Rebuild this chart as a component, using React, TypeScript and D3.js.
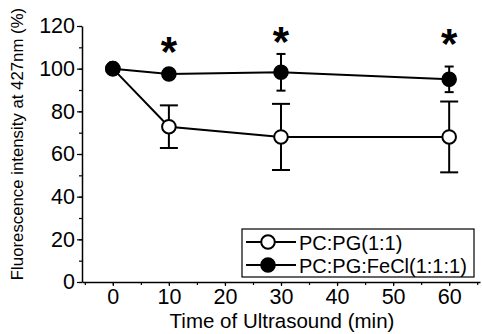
import { useEffect, useMemo, useRef } from 'react';
import * as d3 from 'd3';

const times = [0, 10, 30, 60];
const pcpgMean = [100, 72.8, 68, 68];
const pcpgErr = [0, 10, 15.5, 16.6];
const fecMean = [100, 97.5, 98.3, 95];
const fecErr = [0, 0, 8.6, 6];
const starTimes = [10, 30, 60];
const starLevels = [112.5, 117, 115.8];
const xTicks = [0, 10, 20, 30, 40, 50, 60];
const yTicks = [0, 20, 40, 60, 80, 100, 120];
const seriesNames = ['PC:PG(1:1)', 'PC:PG:FeCl(1:1:1)'];

const W = 482;
const H = 334;
const FONT = '"Liberation Sans", Arial, sans-serif';
const STAR_SIZE = 42;

export default function App() {
    const xAxisEl = useRef<SVGGElement>(null);
    const yAxisEl = useRef<SVGGElement>(null);

    const x = useMemo(() => d3.scaleLinear().domain([-5.5, 65.5]).range([82, 480]), []);
    const y = useMemo(() => d3.scaleLinear().domain([0, 120]).range([282, 26]), []);

    const series = useMemo(
        () => [
            { name: seriesNames[0], mean: pcpgMean, err: pcpgErr, fill: '#fff', cap: 9 },
            { name: seriesNames[1], mean: fecMean, err: fecErr, fill: '#000', cap: 4.5 },
        ],
        []
    );

    useEffect(() => {
        const styleAxis = (g: d3.Selection<SVGGElement, unknown, null, undefined>) => {
            g.selectAll('path').attr('stroke', '#000').attr('stroke-width', 1.5);
            g.selectAll('line').attr('stroke', '#000').attr('stroke-width', 1.2);
            g.selectAll('text').attr('font-family', FONT).attr('font-size', 21.5).attr('fill', '#000');
        };
        if (xAxisEl.current) {
            const g = d3.select(xAxisEl.current);
            g.selectAll('*').remove();
            g.append('g')
                .call(d3.axisBottom(x).tickValues(d3.range(-5, 66, 5)).tickSize(3).tickFormat(() => '').tickSizeOuter(0));
            g.append('g')
                .call(d3.axisBottom(x).tickValues(xTicks).tickSize(4).tickPadding(3).tickSizeOuter(0))
                .call((s) => s.select('path').remove());
            styleAxis(g);
        }
        if (yAxisEl.current) {
            const g = d3.select(yAxisEl.current);
            g.selectAll('*').remove();
            g.append('g')
                .call(d3.axisLeft(y).tickValues(d3.range(0, 121, 10)).tickSize(3).tickFormat(() => '').tickSizeOuter(0));
            g.append('g')
                .call(d3.axisLeft(y).tickValues(yTicks).tickSize(5).tickPadding(2).tickSizeOuter(0))
                .call((s) => s.select('path').remove());
            styleAxis(g);
        }
    }, [x, y]);

    const line = d3
        .line<number>()
        .x((_, i) => x(times[i]))
        .y((d) => y(d));

    return (
        <svg width={W} height={H} style={{ position: 'absolute', left: 0, top: 0, background: '#fff' }}>
            <g ref={xAxisEl} transform={`translate(0, ${y(0)})`} />
            <g ref={yAxisEl} transform={`translate(${x(-5.5)}, 0)`} />
            <text
                transform={`translate(23, ${(y(0) + 4) / 2 + 1}) rotate(-90)`}
                textAnchor="middle"
                fontFamily={FONT}
                fontSize={16.8}
            >
                Fluorescence intensity at 427nm (%)
            </text>
            <text x={282} y={327.5} textAnchor="middle" fontFamily={FONT} fontSize={20.5}>
                Time of Ultrasound (min)
            </text>
            {series.map((s) => (
                <g key={s.name}>
                    {s.mean.map((m, i) =>
                        s.err[i] > 0 ? (
                            <g key={i} stroke="#000" strokeWidth={2}>
                                <line x1={x(times[i])} x2={x(times[i])} y1={y(m - s.err[i])} y2={y(m + s.err[i])} />
                                <line x1={x(times[i]) - s.cap} x2={x(times[i]) + s.cap} y1={y(m + s.err[i])} y2={y(m + s.err[i])} />
                                <line x1={x(times[i]) - s.cap} x2={x(times[i]) + s.cap} y1={y(m - s.err[i])} y2={y(m - s.err[i])} />
                            </g>
                        ) : null
                    )}
                    <path d={line(s.mean) ?? ''} fill="none" stroke="#000" strokeWidth={2} />
                </g>
            ))}
            {series.map((s) =>
                s.mean.map((m, i) => (
                    <circle key={s.name + i} cx={x(times[i])} cy={y(m)} r={6.8} fill={s.fill} stroke="#000" strokeWidth={2} />
                ))
            )}
            {starTimes.map((t, i) => (
                <text
                    key={t}
                    x={x(t)}
                    y={y(starLevels[i]) + STAR_SIZE * 0.56}
                    textAnchor="middle"
                    fontFamily={FONT}
                    fontWeight="bold"
                    fontSize={STAR_SIZE}
                >
                    *
                </text>
            ))}
            <g transform="translate(242, 229)">
                <rect width={232} height={48} fill="#fff" stroke="#000" strokeWidth={1.2} />
                {series.map((s, i) => (
                    <g key={s.name} transform={`translate(0, ${13 + i * 23})`}>
                        <line x1={4} x2={54} y1={0} y2={0} stroke="#000" strokeWidth={2} />
                        <circle cx={26} cy={0} r={6.8} fill={s.fill} stroke="#000" strokeWidth={2} />
                        <text x={57} y={7.5} fontFamily={FONT} fontSize={20}>
                            {s.name}
                        </text>
                    </g>
                ))}
            </g>
        </svg>
    );
}
